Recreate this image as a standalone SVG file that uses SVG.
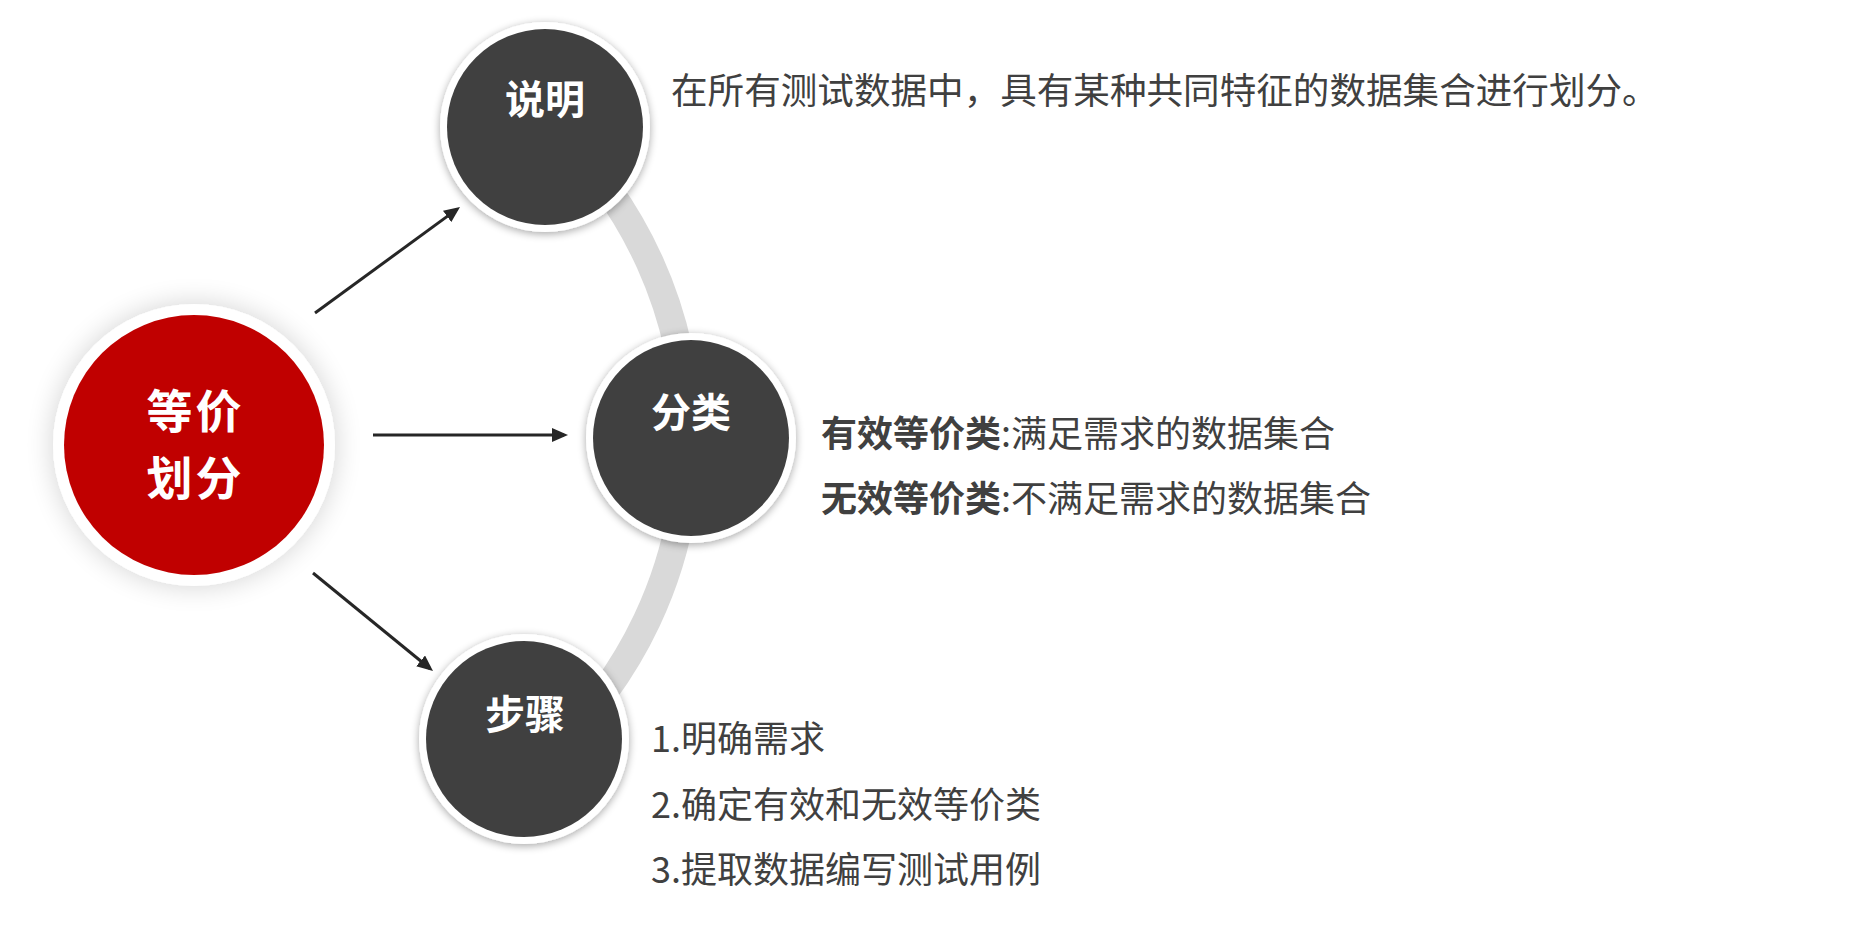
<svg xmlns="http://www.w3.org/2000/svg" width="1854" height="940" viewBox="0 0 1854 940">
  <defs>
    <style>
      .lbl { font-family: "Noto Sans CJK SC", "Liberation Sans", sans-serif; font-weight: 700; fill: #ffffff; text-anchor: middle; }
      .txt { font-family: "Noto Sans CJK SC", "Liberation Sans", sans-serif; font-size: 36px; fill: #404040; }
      .bold { font-weight: 700; }
      .ring { fill: #ffffff; }
      .dark { fill: #404040; }
      .conn { stroke: #262626; stroke-width: 3; fill: none; marker-end: url(#arrow); }
    </style>
    <marker id="arrow" markerUnits="userSpaceOnUse" markerWidth="16" markerHeight="14" refX="12" refY="7" orient="auto">
      <path d="M0,0 L16,7 L0,14 z" fill="#262626"/>
    </marker>
    <filter id="shadow" x="-20%" y="-20%" width="140%" height="140%">
      <feGaussianBlur in="SourceAlpha" stdDeviation="4"/>
      <feOffset dx="0" dy="2" result="b"/>
      <feComponentTransfer><feFuncA type="linear" slope="0.35"/></feComponentTransfer>
      <feMerge><feMergeNode/><feMergeNode in="SourceGraphic"/></feMerge>
    </filter>
    <filter id="glow" x="-30%" y="-30%" width="160%" height="160%">
      <feGaussianBlur in="SourceAlpha" stdDeviation="14"/>
      <feComponentTransfer><feFuncA type="linear" slope="0.18"/></feComponentTransfer>
      <feMerge><feMergeNode/><feMergeNode in="SourceGraphic"/></feMerge>
    </filter>
  </defs>
  <rect width="1854" height="940" fill="#ffffff"/>

  <!-- gray arc -->
  <path id="arc" d="M552,126 A427,427 0 0 1 547,755" fill="none" stroke="#d9d9d9" stroke-width="28"/>

  <g id="connectors">
    <line class="conn" x1="315" y1="313" x2="456.8" y2="209.4"/>
    <line class="conn" x1="373" y1="435" x2="564" y2="435"/>
    <line class="conn" x1="313" y1="573" x2="429.9" y2="668.5"/>
  </g>

  <g id="node-main">
    <circle class="ring" cx="194" cy="445" r="141" filter="url(#glow)"/>
    <circle cx="194" cy="445" r="130" fill="#c00000"/>
    <text class="lbl" x="195.5" y="428" font-size="46" letter-spacing="3">等价</text>
    <text class="lbl" x="195.5" y="495" font-size="46" letter-spacing="3">划分</text>
  </g>

  <g id="node-shuoming">
    <circle class="ring" cx="545" cy="127" r="105" filter="url(#shadow)"/>
    <circle class="dark" cx="545" cy="127" r="98"/>
    <text class="lbl" x="545" y="114" font-size="40">说明</text>
  </g>

  <g id="node-fenlei">
    <circle class="ring" cx="691" cy="438" r="105" filter="url(#shadow)"/>
    <circle class="dark" cx="691" cy="438" r="98"/>
    <text class="lbl" x="691" y="427" font-size="40">分类</text>
  </g>

  <g id="node-buzhou">
    <circle class="ring" cx="524" cy="739" r="105" filter="url(#shadow)"/>
    <circle class="dark" cx="524" cy="739" r="98"/>
    <text class="lbl" x="525" y="729" font-size="40">步骤</text>
  </g>

  <g id="desc-shuoming">
    <text class="txt" x="671" y="104" style="font-size:36.6px">在所有测试数据中，具有某种共同特征的数据集合进行划分。</text>
  </g>

  <g id="desc-fenlei">
    <text class="txt" x="821" y="447"><tspan class="bold">有效等价类</tspan>:满足需求的数据集合</text>
    <text class="txt" x="821" y="512"><tspan class="bold">无效等价类</tspan>:不满足需求的数据集合</text>
  </g>

  <g id="desc-buzhou">
    <text class="txt" x="651" y="752">1.明确需求</text>
    <text class="txt" x="651" y="818">2.确定有效和无效等价类</text>
    <text class="txt" x="651" y="883">3.提取数据编写测试用例</text>
  </g>
</svg>
